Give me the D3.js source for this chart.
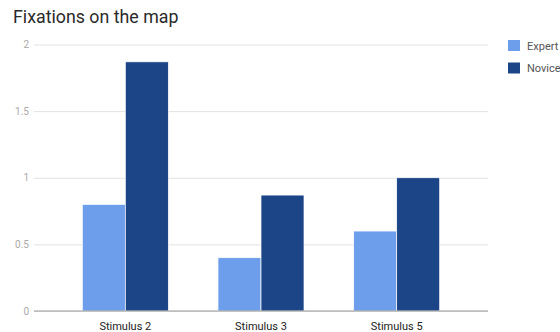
<html>
<head>
  <meta charset="UTF-8">
  <title>Fixations on the map</title>
  <script src="https://d3js.org/d3.v7.min.js"></script>
  <style>
    body { margin: 0; background: #fff; }
    text { font-family: Roboto, "Noto Sans", sans-serif; }
  </style>
</head>
<body>
<div id="chart"></div>
<script>
// data
var categories = ["Stimulus 2", "Stimulus 3", "Stimulus 5"];
var seriesNames = ["Expert", "Novice"];
var expert = [0.8, 0.4, 0.6];
var novice = [1.87, 0.87, 1.0];
var yTicks = [0, 0.5, 1, 1.5, 2];
var colors = ["#6d9eeb", "#1c4587"];

var width = 560, height = 332;
var plotLeft = 34, plotRight = 488, plotTop = 44.5, plotBottom = 311;

var svg = d3.select("#chart").append("svg")
  .attr("width", width)
  .attr("height", height);

// title
svg.append("text")
  .attr("x", 13)
  .attr("y", 23)
  .attr("font-size", 17.8)
  .attr("fill", "#2a2a2a")
  .text("Fixations on the map");

var x0 = d3.scaleBand()
  .domain(categories)
  .range([plotLeft, plotRight])
  .paddingInner(0.366)
  .paddingOuter(0.356);

var x1 = d3.scaleBand()
  .domain(seriesNames)
  .range([0, x0.bandwidth()]);

var y = d3.scaleLinear()
  .domain([0, 2])
  .range([plotBottom, plotTop]);

// gridlines + y labels
var yAxis = d3.axisLeft(y)
  .tickValues(yTicks)
  .tickSize(-(plotRight - plotLeft))
  .tickPadding(5)
  .tickFormat(d3.format("~g"));

var gy = svg.append("g")
  .attr("transform", "translate(" + plotLeft + ",0)")
  .call(yAxis);
gy.select(".domain").remove();
gy.selectAll("line").attr("stroke", "#e2e2e2");
gy.selectAll("text")
  .attr("fill", "#aaa")
  .attr("font-size", 10);

// bars
var rows = categories.map(function(c, i) {
  return { cat: c, vals: [expert[i], novice[i]] };
});

var groups = svg.selectAll(".grp")
  .data(rows)
  .enter().append("g")
  .attr("transform", function(d) { return "translate(" + x0(d.cat) + ",0)"; });

groups.selectAll("rect")
  .data(function(d) { return d.vals.map(function(v, j) { return { s: seriesNames[j], v: v, j: j }; }); })
  .enter().append("rect")
  .attr("x", function(d) { return x1(d.s); })
  .attr("width", x1.bandwidth())
  .attr("y", function(d) { return y(d.v); })
  .attr("height", function(d) { return y(0) - y(d.v); })
  .attr("fill", function(d) { return colors[d.j]; })
  .attr("stroke", "#fff")
  .attr("stroke-width", 0.7);

// x axis baseline + labels
var xAxis = d3.axisBottom(x0).tickSize(0).tickPadding(11);
var gx = svg.append("g")
  .attr("transform", "translate(0," + plotBottom + ")")
  .call(xAxis);
gx.select(".domain").remove();
gx.selectAll("text")
  .attr("fill", "#222")
  .attr("font-size", 11);

svg.append("line")
  .attr("x1", plotLeft).attr("x2", plotRight)
  .attr("y1", y(0)).attr("y2", y(0))
  .attr("stroke", "#999")
  .attr("stroke-width", 1);

// legend
var legend = svg.selectAll(".leg")
  .data(seriesNames)
  .enter().append("g")
  .attr("transform", function(d, i) { return "translate(508," + (40 + i * 22.5) + ")"; });

legend.append("rect")
  .attr("width", 12)
  .attr("height", 11)
  .attr("fill", function(d, i) { return colors[i]; });

legend.append("text")
  .attr("x", 19)
  .attr("y", 9.5)
  .attr("font-size", 11)
  .attr("fill", "#555")
  .text(function(d) { return d; });
</script>
</body>
</html>
